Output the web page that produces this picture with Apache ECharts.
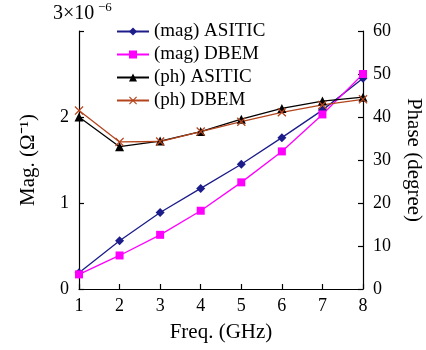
<!DOCTYPE html>
<html>
<head>
<meta charset="utf-8">
<script src="https://cdn.jsdelivr.net/npm/echarts@6/dist/echarts.min.js"></script>
<style>
  html, body { margin: 0; padding: 0; background: #fff; }
  #chart { width: 426px; height: 350px; }
</style>
</head>
<body>
<div id="chart"></div>
<script>
// frequency points (GHz)
const freq = [1, 2, 3, 4, 5, 6, 7, 8];
// magnitude in units of 1e-6 S
const magAsitic = [0.19, 0.56, 0.89, 1.17, 1.45, 1.76, 2.08, 2.45];
const magDbem = [0.17, 0.39, 0.63, 0.91, 1.24, 1.60, 2.03, 2.50];
// phase in degrees
const phAsitic = [40.0, 33.1, 34.4, 36.6, 39.5, 42.0, 43.7, 44.6];
const phDbem = [41.5, 34.2, 34.3, 36.6, 38.9, 41.1, 42.8, 44.1];

const seriesNames = ['(mag) ASITIC', '(mag) DBEM', '(ph) ASITIC', '(ph) DBEM'];

const serif = 'Liberation Serif';
const xMark = 'path://M0,1L1,0L5,4L9,0L10,1L6,5L10,9L9,10L5,6L1,10L0,9L4,5Z';

function pairs(vals) {
  return freq.map((f, i) => [f, vals[i]]);
}

const chart = echarts.init(document.getElementById('chart'));

const axisBase = {
  axisLine: { show: true, lineStyle: { color: '#000', width: 1.2 } },
  axisTick: { show: true, inside: true, length: 5, lineStyle: { color: '#000', width: 1.2 } },
  splitLine: { show: false },
  axisLabel: { color: '#000', fontFamily: serif, fontSize: 18 },
  nameTextStyle: { color: '#000', fontFamily: serif, fontSize: 21 }
};

const option = {
  animation: false,
  backgroundColor: '#fff',
  grid: { left: 79, right: 63, top: 31, bottom: 61, outerBoundsMode: 'none', containLabel: false },
  legend: {
    orient: 'vertical',
    left: 111,
    top: 17,
    itemWidth: 32,
    itemHeight: 10,
    itemGap: 4,
    textStyle: { color: '#000', fontFamily: serif, fontSize: 19 },
    data: seriesNames
  },
  graphic: [
    { type: 'text', left: 53, top: 4, style: { text: '3×10', fill: '#000', font: '20px "Liberation Serif"' } },
    { type: 'text', left: 98, top: 1, style: { text: '−6', fill: '#000', font: '13px "Liberation Serif"' } }
  ],
  xAxis: Object.assign({}, axisBase, {
    type: 'value',
    min: 1,
    max: 8,
    interval: 1,
    name: 'Freq. (GHz)',
    nameLocation: 'middle',
    nameGap: 33,
    axisLabel: Object.assign({}, axisBase.axisLabel, { margin: 8 })
  }),
  yAxis: [
    Object.assign({}, axisBase, {
      type: 'value',
      min: 0,
      max: 3,
      interval: 1,
      name: 'Mag. (Ω⁻¹)',
      nameLocation: 'middle',
      nameGap: 40,
      axisLabel: Object.assign({}, axisBase.axisLabel, {
        margin: 10,
        formatter: v => (v === 3 ? '' : String(v))
      })
    }),
    Object.assign({}, axisBase, {
      type: 'value',
      position: 'right',
      min: 0,
      max: 60,
      interval: 10,
      name: 'Phase (degree)',
      nameLocation: 'middle',
      nameRotate: -90,
      nameGap: 40,
      axisLabel: Object.assign({}, axisBase.axisLabel, { margin: 10 })
    })
  ],
  series: [
    {
      name: seriesNames[0], type: 'line', yAxisIndex: 0, data: pairs(magAsitic),
      symbol: 'diamond', symbolSize: 9,
      lineStyle: { color: '#1c1c8a', width: 1.3 }, itemStyle: { color: '#1c1c8a' }
    },
    {
      name: seriesNames[1], type: 'line', yAxisIndex: 0, data: pairs(magDbem),
      symbol: 'rect', symbolSize: 8,
      lineStyle: { color: '#ff00ff', width: 1.3 }, itemStyle: { color: '#ff00ff' }
    },
    {
      name: seriesNames[2], type: 'line', yAxisIndex: 1, data: pairs(phAsitic),
      symbol: 'triangle', symbolSize: 9,
      lineStyle: { color: '#000', width: 1.3 }, itemStyle: { color: '#000' }
    },
    {
      name: seriesNames[3], type: 'line', yAxisIndex: 1, data: pairs(phDbem),
      symbol: xMark, symbolSize: 9,
      lineStyle: { color: '#b4441c', width: 1.3 }, itemStyle: { color: '#b4441c' }
    }
  ]
};

chart.setOption(option);
</script>
</body>
</html>
